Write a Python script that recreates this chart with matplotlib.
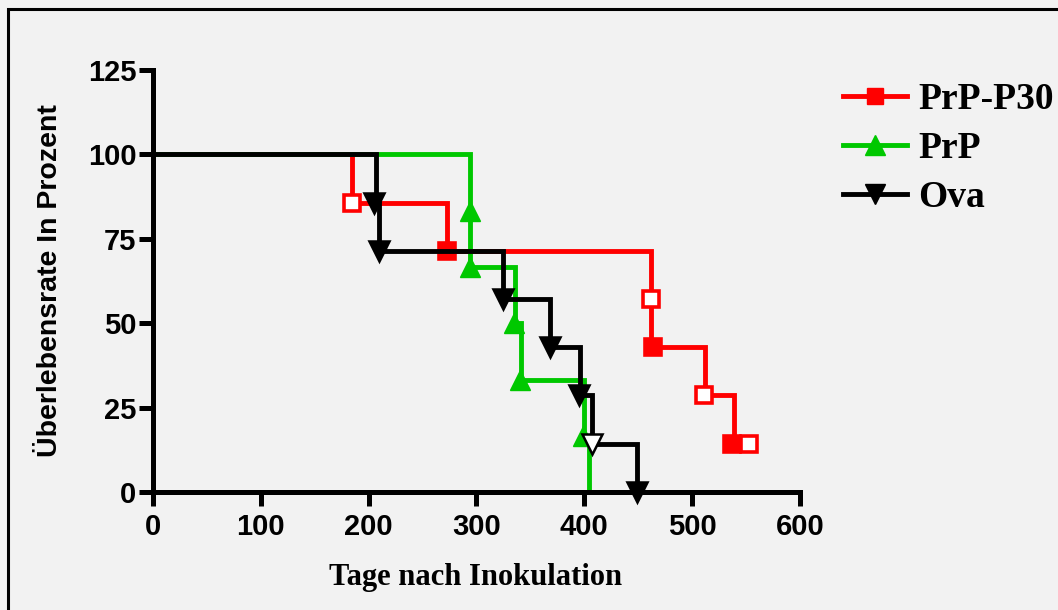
import matplotlib
matplotlib.use("Agg")
import matplotlib.pyplot as plt
from matplotlib.lines import Line2D
from matplotlib.patches import Rectangle

# Kaplan-Meier Stufen: Tage nach Inokulation und Ueberlebensrate (%)
p30_tage = [0, 185, 273, 462, 512, 539, 553]
p30_proz = [100, 85.7, 71.4, 42.9, 28.6, 14.3, 14.3]
prp_tage = [0, 294, 336, 341, 400, 404]
prp_proz = [100, 66.7, 50, 33.3, 16.7, 0]
ova_tage = [0, 207, 210, 325, 368, 396, 407, 449]
ova_proz = [100, 85.7, 71.4, 57.1, 42.9, 28.6, 14.3, 0]

# Symbole (offen = weiss gefuellt)
p30_mx = [185, 273, 462, 464, 511, 537, 553]
p30_my = [85.7, 71.4, 57.1, 42.9, 28.6, 14.3, 14.3]
p30_offen = [True, False, True, False, True, False, True]
prp_mx = [294, 294, 335, 340, 399]
prp_my = [83.3, 66.7, 50, 33.3, 16.7]
ova_mx = [205, 210, 325, 368, 395, 407, 449]
ova_my = [85.7, 71.4, 57.1, 42.9, 28.6, 14.3, 0]
ova_offen = [False, False, False, False, False, True, False]

x_ticks = [0, 100, 200, 300, 400, 500, 600]
y_ticks = [0, 25, 50, 75, 100, 125]

rot = '#ff0000'
gruen = '#00c800'
schwarz = '#000000'
bg = '#f2f2f2'
lw = 3.5

fig = plt.figure(figsize=(10.58, 6.10), dpi=100, facecolor=bg)
ax = fig.add_axes([153/1058, 1 - 492/610, 647/1058, 422/610])
ax.set_facecolor(bg)

ax.step(p30_tage, p30_proz, where='post', color=rot, lw=lw, zorder=2,
        solid_joinstyle='miter')
ax.step(prp_tage, prp_proz, where='post', color=gruen, lw=lw, zorder=3,
        solid_joinstyle='miter')
ax.step(ova_tage, ova_proz, where='post', color=schwarz, lw=lw, zorder=4,
        solid_joinstyle='miter')

for x, y, o in zip(p30_mx, p30_my, p30_offen):
    ax.plot(x, y, 's', ms=12, mew=2.6, mec=rot, mfc='white' if o else rot,
            zorder=2.5, clip_on=False)
ax.plot(prp_mx, prp_my, '^', ms=14, mew=1, mec=gruen, mfc=gruen, ls='none',
        zorder=3.5, clip_on=False)
for x, y, o in zip(ova_mx, ova_my, ova_offen):
    ax.plot(x, y, 'v', ms=14, mew=1.8, mec=schwarz,
            mfc='white' if o else schwarz, zorder=4.5, clip_on=False)

ax.set_xlim(0, 600)
ax.set_ylim(0, 125)
ax.set_xticks(x_ticks)
ax.set_yticks(y_ticks)
for s in ['top', 'right']:
    ax.spines[s].set_visible(False)
for s in ['left', 'bottom']:
    ax.spines[s].set_linewidth(3.6)
    ax.spines[s].set_zorder(5)
ax.tick_params(axis='both', length=10, width=3.6, labelsize=21, pad=5)
ax.tick_params(axis='y', pad=2)
for lab in ax.get_xticklabels() + ax.get_yticklabels():
    lab.set_fontweight('bold')
    lab.set_family('Liberation Sans')

ax.set_ylabel('Überlebensrate In Prozent', fontsize=20.5, fontweight='bold',
              family='Liberation Sans')
ax.yaxis.set_label_coords(-(153 - 63)/647, 0.5)
fig.text(476/1058, 1 - 578/610, 'Tage nach Inokulation', ha='center',
         va='center', fontsize=22, fontweight='bold', family='Liberation Serif')

handles = [
    Line2D([], [], color=rot, lw=lw, marker='s', ms=12),
    Line2D([], [], color=gruen, lw=lw, marker='^', ms=14),
    Line2D([], [], color=schwarz, lw=lw, marker='v', ms=14),
]
leg = fig.legend(handles, ['PrP-P30', 'PrP', 'Ova'], loc='upper left',
                 bbox_to_anchor=(843/1058, 1 - 82/610), frameon=False,
                 handlelength=1.7, handletextpad=0.3, labelspacing=0.37,
                 borderpad=0, borderaxespad=0,
                 prop={'family': 'Liberation Serif', 'weight': 'bold',
                       'size': 27})

fig.add_artist(Rectangle((8/1058, -0.1), 1.2, 1.1 - 9/610,
                         transform=fig.transFigure, fill=False,
                         edgecolor='black', lw=2.2))

fig.savefig('out.png', dpi=100, facecolor=bg)
